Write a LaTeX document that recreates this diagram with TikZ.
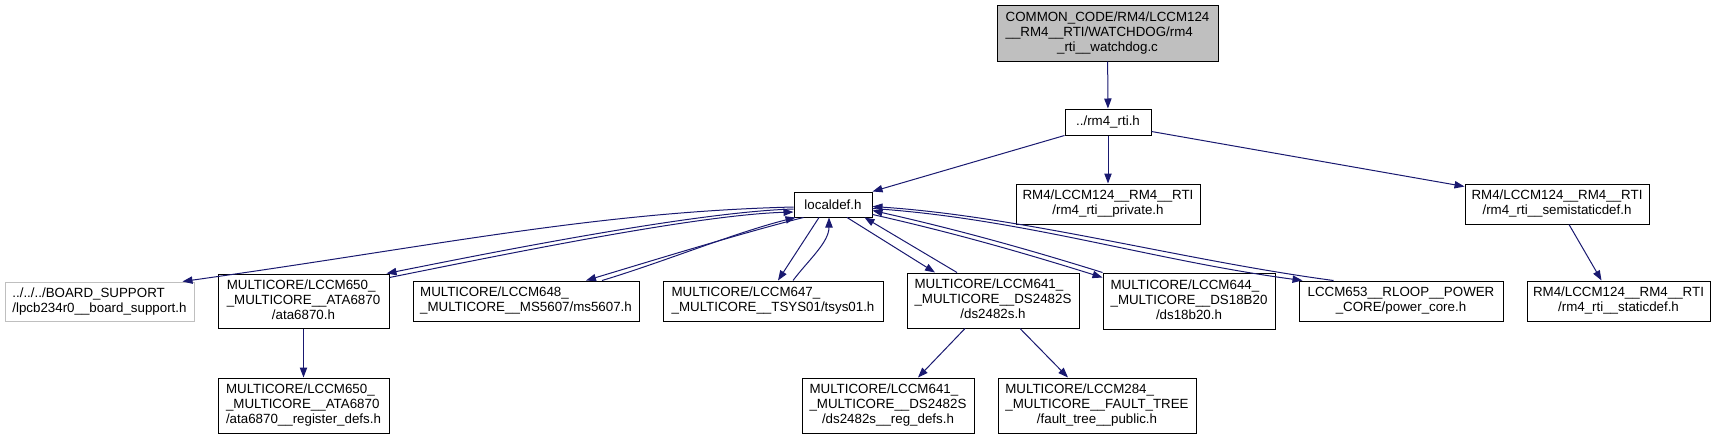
\documentclass[tikz,border=0pt]{standalone}
\usepackage{fontspec}
\setmainfont{Liberation Sans}
\usepackage{xcolor}
\usepackage{tikz}
\usetikzlibrary{arrows.meta,calc}
\definecolor{edgeblue}{HTML}{191970}
\definecolor{greyfill}{HTML}{BFBFBF}
\newcommand{\dotsz}{\fontsize{10}{11.25}\selectfont}
% all lines but the last flush left, the last one centred
\newcommand{\flines}[2]{\begin{tabular}{@{}l@{}}#1\\\multicolumn{1}{@{}c@{}}{#2}\end{tabular}}
\tikzset{
  file/.style    = {rectangle, draw=black, fill=white, line width=0.75pt,
                    inner sep=0pt, align=center, font=\dotsz},
  extfile/.style = {file, draw=greyfill},
  rootfile/.style= {file, fill=greyfill},
  dims/.style 2 args = {minimum width=0.75*#1pt, minimum height=0.75*#2pt},
  inc/.style     = {-{Triangle[length=7.5pt,width=5.5pt]}, line width=0.75pt, draw=edgeblue},
}

\begin{document}
\begin{tikzpicture}[x=0.75pt, y=-0.75pt]
  \useasboundingbox (0,0) rectangle (1716,439);
  % top levels
  \node[rootfile, dims={221}{56}] (root) at (1107.5,33)
    {\flines{COMMON\_CODE/RM4/LCCM124\\\_\_RM4\_\_RTI/WATCHDOG/rm4}{\_rti\_\_watchdog.c}};
  \node[file, dims={86}{26}] (rti) at (1108,122) {../rm4\_rti.h};
  \node[file, dims={78}{25}] (ldef) at (833,204.5) {localdef.h};
  \node[file, dims={184}{40}] (priv) at (1108,204)
    {\flines{RM4/LCCM124\_\_RM4\_\_RTI}{/rm4\_rti\_\_private.h}};
  \node[file, dims={184}{40}] (semi) at (1557,204)
    {\flines{RM4/LCCM124\_\_RM4\_\_RTI}{/rm4\_rti\_\_semistaticdef.h}};
  % row included by localdef.h
  \node[extfile, dims={189}{39}] (board) at (99.5,301.5)
    {\flines{../../../BOARD\_SUPPORT}{/lpcb234r0\_\_board\_support.h}};
  \node[file, dims={171}{54}] (ata) at (303.5,301)
    {\flines{MULTICORE/LCCM650\_\\\_MULTICORE\_\_ATA6870}{/ata6870.h}};
  \node[file, dims={226}{40}] (ms) at (526,301)
    {\flines{MULTICORE/LCCM648\_}{\_MULTICORE\_\_MS5607/ms5607.h}};
  \node[file, dims={220}{40}] (tsys) at (773,301)
    {\flines{MULTICORE/LCCM647\_}{\_MULTICORE\_\_TSYS01/tsys01.h}};
  \node[file, dims={172}{55}] (dsa) at (993,300.5)
    {\flines{MULTICORE/LCCM641\_\\\_MULTICORE\_\_DS2482S}{/ds2482s.h}};
  \node[file, dims={172}{56}] (dsb) at (1189,301)
    {\flines{MULTICORE/LCCM644\_\\\_MULTICORE\_\_DS18B20}{/ds18b20.h}};
  \node[file, dims={204}{40}] (pwr) at (1401,301)
    {\flines{LCCM653\_\_RLOOP\_\_POWER}{\_CORE/power\_core.h}};
  \node[file, dims={183}{40}] (stat) at (1618.5,301)
    {\flines{RM4/LCCM124\_\_RM4\_\_RTI}{/rm4\_rti\_\_staticdef.h}};
  % bottom row
  \node[file, dims={171}{55}] (atareg) at (303.5,405.5)
    {\flines{MULTICORE/LCCM650\_\\\_MULTICORE\_\_ATA6870}{/ata6870\_\_register\_defs.h}};
  \node[file, dims={172}{55}] (dsreg) at (888,405.5)
    {\flines{MULTICORE/LCCM641\_\\\_MULTICORE\_\_DS2482S}{/ds2482s\_\_reg\_defs.h}};
  \node[file, dims={198}{55}] (ftree) at (1097,405.5)
    {\flines{MULTICORE/LCCM284\_\\\_MULTICORE\_\_FAULT\_TREE}{/fault\_tree\_\_public.h}};

  \draw[inc] (root) -- (rti);
  \draw[inc] (rti.south west) -- (ldef.north east);
  \draw[inc] (rti) -- (priv);
  \draw[inc] ($(rti.south east)+(0,-4)$) -- ($(semi.north west)+(0,3)$);
  \draw[inc] ($(semi.south)+(12,0)$) -- ($(stat.north)+(-17,0)$);
  \draw[inc] (ata) -- (atareg);
  \draw[inc] ($(dsa.south)+(-28,0)$) -- ($(dsreg.north)+(30,0)$);
  \draw[inc] ($(dsa.south)+(27,0)$) -- ($(ftree.north)+(-29,0)$);

  % localdef.h and the files that include it back
  \draw[inc] ($(ldef.west)+(0,2.5)$) .. controls +(-200,5) and +(250,-35) .. ($(board.north east)+(-12,0)$);
  \draw[inc] ($(ldef.west)+(0,4.5)$) .. controls +(-100,3) and +(100,-20) .. ($(ata.north east)+(-3,0)$);
  \draw[inc] ($(ata.north east)+(0,4)$) .. controls +(100,-20) and +(-100,3) .. ($(ldef.west)+(0,7.5)$);
  \draw[inc] ($(ldef.south west)+(10,0)$) .. controls +(-60,15) and +(60,-18) .. ($(ms.north)+(60,0)$);
  \draw[inc] ($(ms.north)+(76,0)$) .. controls +(60,-18) and +(-60,15) .. ($(ldef.south west)+(2,0)$);
  \draw[inc] ($(ldef.south)+(-14,0)$) -- ($(tsys.north)+(5,0)$);
  \draw[inc] ($(tsys.north)+(20,0)$) .. controls +(15,-20) and +(0,25) .. ($(ldef.south)+(-4,0)$);
  \draw[inc] ($(ldef.south)+(14,0)$) -- ($(dsa.north)+(-58,0)$);
  \draw[inc] ($(dsa.north)+(-36,0)$) -- ($(ldef.south east)+(-8,0)$);
  \draw[inc] ($(ldef.east)+(0,10)$) .. controls +(80,18) and +(-80,-25) .. ($(dsb.north west)+(0,5)$);
  \draw[inc] (dsb.north west) .. controls +(-80,-25) and +(80,18) .. ($(ldef.east)+(0,6)$);
  \draw[inc] ($(ldef.east)+(0,4)$) .. controls +(150,10) and +(-150,-20) .. ($(pwr.north west)+(4,0)$);
  \draw[inc] ($(pwr.north west)+(35,0)$) .. controls +(-150,-20) and +(150,10) .. ($(ldef.east)+(0,2)$);
\end{tikzpicture}
\end{document}
